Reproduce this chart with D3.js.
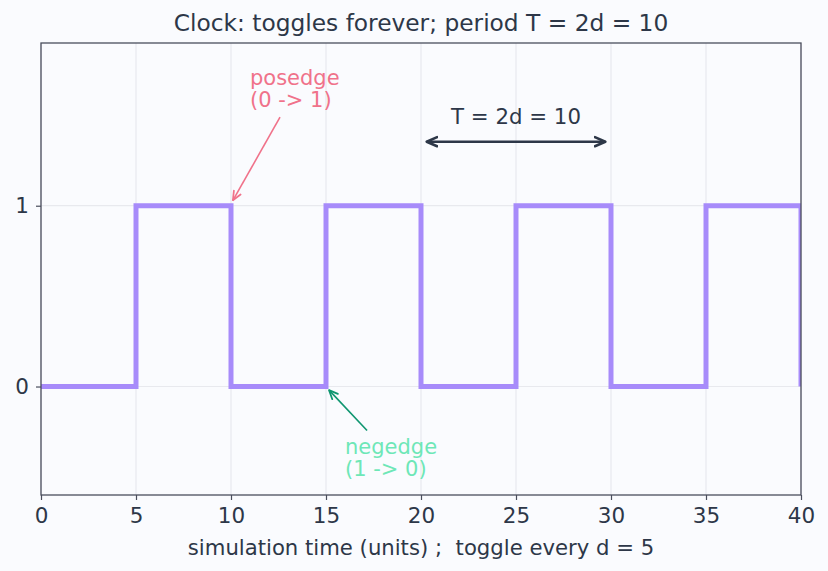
<!DOCTYPE html>
<html>
<head>
<meta charset="utf-8">
<script src="https://cdn.jsdelivr.net/npm/d3@7"></script>
<style>
  body { margin: 0; background: #fafbfe; }
  svg { display: block; font-family: "DejaVu Sans", sans-serif; }
</style>
</head>
<body>
<div id="chart"></div>
<script>
// clock samples: toggles every d = 5
var times = [0, 5, 10, 15, 20, 25, 30, 35, 40];
var levels = [0, 1, 0, 1, 0, 1, 0, 1, 0];
var xTicks = [0, 5, 10, 15, 20, 25, 30, 35, 40];
var yTicks = [0, 1];
// annotations: text anchor (tx, ty), arrow tail (ax, ay), arrow tip (x, y)
var posedge = {x: 10.1, y: 1.03, ax: 12.58, ay: 1.49, tx: 11, ty: 1.67, label: ["posedge", "(0 -> 1)"]};
var negedge = {x: 15.16, y: -0.02, ax: 17.16, ay: -0.243, tx: 16, ty: -0.375, label: ["negedge", "(1 -> 0)"]};
var period = {from: 20.3, to: 29.7, y: 1.354, ty: 1.45, label: "T = 2d = 10"};

(function () {
    var width = 828, height = 571;
    var margin = {top: 43, right: 27, bottom: 76, left: 41};
    var w = width - margin.left - margin.right,
        h = height - margin.top - margin.bottom;

    var ink = "#2d3748", spine = "#4a4e5c";

    var svg = d3.select("#chart").append("svg")
        .attr("width", width)
        .attr("height", height);

    svg.append("rect").attr("width", width).attr("height", height).attr("fill", "#fafbfe");

    var defs = svg.append("defs");
    defs.append("clipPath").attr("id", "clip")
        .append("rect").attr("x", -1).attr("width", w + 1).attr("height", h);

    function marker(id, color, size, sw) {
        defs.append("marker")
            .attr("id", id)
            .attr("viewBox", "0 0 10 10")
            .attr("refX", 9).attr("refY", 5)
            .attr("markerWidth", size).attr("markerHeight", size)
            .attr("markerUnits", "userSpaceOnUse")
            .attr("orient", "auto-start-reverse")
            .append("path")
            .attr("d", "M1,1.5 L9,5 L1,8.5")
            .attr("fill", "none")
            .attr("stroke", color)
            .attr("stroke-width", sw)
            .attr("stroke-linecap", "round")
            .attr("stroke-linejoin", "round");
    }
    marker("arrPos", "#f0728a", 11, 1.6);
    marker("arrNeg", "#0f9670", 11, 1.6);
    marker("arrT", "#2d3748", 13, 2.0);

    var g = svg.append("g").attr("transform", `translate(${margin.left},${margin.top})`);

    var x = d3.scaleLinear().domain([0, 40]).range([0, w]);
    var y = d3.scaleLinear().domain([-0.6, 1.9]).range([h, 0]);

    // grid
    g.append("g").selectAll("line").data(xTicks).join("line")
        .attr("x1", d => x(d)).attr("x2", d => x(d))
        .attr("y1", 0).attr("y2", h)
        .attr("stroke", "#e8e9ee").attr("stroke-width", 1.2);
    g.append("g").selectAll("line").data(yTicks).join("line")
        .attr("x1", 0).attr("x2", w)
        .attr("y1", d => y(d)).attr("y2", d => y(d))
        .attr("stroke", "#e8e9ee").attr("stroke-width", 1.2);

    // clock waveform
    var line = d3.line()
        .x((d, i) => x(times[i]))
        .y(d => y(d))
        .curve(d3.curveStepAfter);

    g.append("path")
        .datum(levels)
        .attr("clip-path", "url(#clip)")
        .attr("d", line)
        .attr("fill", "none")
        .attr("stroke", "#a78bfa")
        .attr("stroke-width", 5)
        .attr("stroke-linejoin", "miter");

    // axes
    var xAxis = g.append("g")
        .attr("transform", `translate(0,${h})`)
        .call(d3.axisBottom(x).tickValues(xTicks).tickSize(5).tickPadding(8).tickFormat(d3.format("d")));
    var yAxis = g.append("g")
        .call(d3.axisLeft(y).tickValues(yTicks).tickSize(5).tickPadding(7).tickFormat(d3.format("d")));

    [xAxis, yAxis].forEach(function (a) {
        a.select(".domain").remove();
        a.selectAll("line").attr("stroke", spine).attr("stroke-width", 1.2);
        a.selectAll("text").attr("fill", ink).attr("font-size", 21.5)
            .attr("font-family", "DejaVu Sans");
    });

    g.append("rect")
        .attr("width", w).attr("height", h)
        .attr("fill", "none")
        .attr("stroke", spine)
        .attr("stroke-width", 1.3);

    // posedge annotation
    g.append("line")
        .attr("x1", x(posedge.ax)).attr("y1", y(posedge.ay))
        .attr("x2", x(posedge.x)).attr("y2", y(posedge.y))
        .attr("stroke", "#f0728a").attr("stroke-width", 1.6)
        .attr("marker-end", "url(#arrPos)");
    g.append("text")
        .attr("x", x(posedge.tx)).attr("y", y(posedge.ty))
        .attr("fill", "#f0728a").attr("font-size", 21)
        .selectAll("tspan").data(posedge.label).join("tspan")
        .attr("x", x(posedge.tx))
        .attr("dy", (d, i) => i ? 22 : 0)
        .text(d => d);

    // negedge annotation
    g.append("line")
        .attr("x1", x(negedge.ax)).attr("y1", y(negedge.ay))
        .attr("x2", x(negedge.x)).attr("y2", y(negedge.y))
        .attr("stroke", "#0f9670").attr("stroke-width", 1.6)
        .attr("marker-end", "url(#arrNeg)");
    g.append("text")
        .attr("x", x(negedge.tx)).attr("y", y(negedge.ty))
        .attr("fill", "#6ee7b7").attr("font-size", 21)
        .selectAll("tspan").data(negedge.label).join("tspan")
        .attr("x", x(negedge.tx))
        .attr("dy", (d, i) => i ? 22 : 0)
        .text(d => d);

    // period arrow
    g.append("line")
        .attr("x1", x(period.from)).attr("x2", x(period.to))
        .attr("y1", y(period.y)).attr("y2", y(period.y))
        .attr("stroke", ink).attr("stroke-width", 2.6)
        .attr("marker-start", "url(#arrT)")
        .attr("marker-end", "url(#arrT)");
    g.append("text")
        .attr("x", x((period.from + period.to) / 2)).attr("y", y(period.ty))
        .attr("text-anchor", "middle")
        .attr("fill", ink).attr("font-size", 21.3)
        .text(period.label);

    // title and axis label
    svg.append("text")
        .attr("x", margin.left + w / 2).attr("y", 31)
        .attr("text-anchor", "middle")
        .attr("fill", ink).attr("font-size", 23.3)
        .text("Clock: toggles forever; period T = 2d = 10");
    svg.append("text")
        .attr("x", margin.left + w / 2).attr("y", 555)
        .attr("text-anchor", "middle")
        .attr("fill", ink).attr("font-size", 21.2)
        .style("white-space", "pre")
        .text("simulation time (units) ;  toggle every d = 5");
}());
</script>
</body>
</html>
